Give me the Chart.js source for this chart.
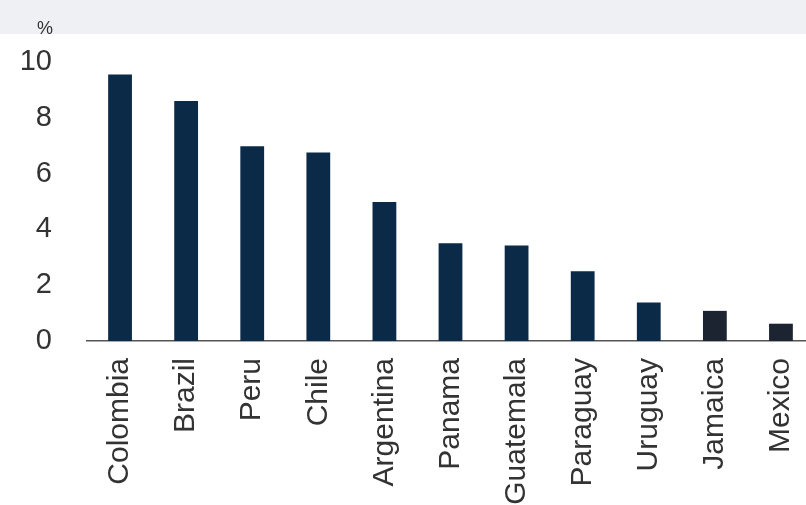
<!DOCTYPE html>
<html>
<head>
<meta charset="utf-8">
<script src="https://cdn.jsdelivr.net/npm/chart.js@4.4.1/dist/chart.umd.min.js"></script>
<style>
  html, body { margin: 0; padding: 0; background: #ffffff; overflow: hidden; }
  #wrap { position: relative; width: 806px; height: 505px; overflow: hidden; }
  #band { position: absolute; left: 0; top: 0; width: 806px; height: 34px; background: #eef0f3; }
  #chartCanvas { position: absolute; left: 0; top: 0; }
</style>
</head>
<body>
<div id="wrap">
  <div id="band"></div>
  <canvas id="chartCanvas" width="814" height="505"></canvas>
</div>
<script>
// countries and values (%)
const countries = ['Colombia', 'Brazil', 'Peru', 'Chile', 'Argentina', 'Panama', 'Guatemala', 'Paraguay', 'Uruguay', 'Jamaica', 'Mexico'];
const values = [9.55, 8.6, 6.98, 6.76, 4.98, 3.5, 3.42, 2.5, 1.38, 1.08, 0.62];
const yTicks = [0, 2, 4, 6, 8, 10];
const unitLabel = '%';

const barColors = countries.map((c, i) => i >= 9 ? '#1b2430' : '#0b2a48');

// draws the small "%" unit above the y axis
const unitPlugin = {
  id: 'unitLabel',
  afterDraw(chart) {
    const ctx = chart.ctx;
    ctx.save();
    ctx.font = '18px "Liberation Sans", Arial, sans-serif';
    ctx.fillStyle = '#333333';
    ctx.textAlign = 'center';
    ctx.textBaseline = 'middle';
    ctx.fillText(unitLabel, 45, 29);
    ctx.restore();
  }
};

function createCountryBarChart(canvasId) {
  const ctx = document.getElementById(canvasId).getContext('2d');

  return new Chart(ctx, {
    type: 'bar',
    data: {
      labels: countries,
      datasets: [{
        label: '%',
        data: values,
        backgroundColor: barColors,
        borderWidth: 0,
        categoryPercentage: 1,
        barPercentage: 0.36
      }]
    },
    options: {
      responsive: false, // fixed size canvas
      animation: false,
      layout: {
        padding: { left: 22, top: 62, right: 0, bottom: 0 }
      },
      plugins: {
        legend: { display: false },
        tooltip: { enabled: false },
        title: { display: false }
      },
      scales: {
        x: {
          grid: { display: false, drawTicks: false },
          border: { display: true, color: '#555555', width: 1.5 },
          ticks: {
            color: '#333333',
            padding: 17,
            minRotation: 90,
            maxRotation: 90,
            autoSkip: false,
            font: { family: '"Liberation Sans", Arial, sans-serif', size: 30 }
          },
          afterFit: function(scale) {
            scale.height = 164;
            scale.paddingLeft = 0;
            scale.paddingRight = 0;
          }
        },
        y: {
          min: 0,
          max: 10,
          afterBuildTicks: function(scale) {
            scale.ticks = yTicks.map(v => ({ value: v }));
          },
          grid: { display: false, drawTicks: false },
          border: { display: false },
          ticks: {
            color: '#333333',
            padding: 35,
            font: { family: '"Liberation Sans", Arial, sans-serif', size: 29 }
          },
          afterFit: function(scale) { scale.width = 65; }
        }
      }
    },
    plugins: [unitPlugin]
  });
}

createCountryBarChart('chartCanvas');
</script>
</body>
</html>
